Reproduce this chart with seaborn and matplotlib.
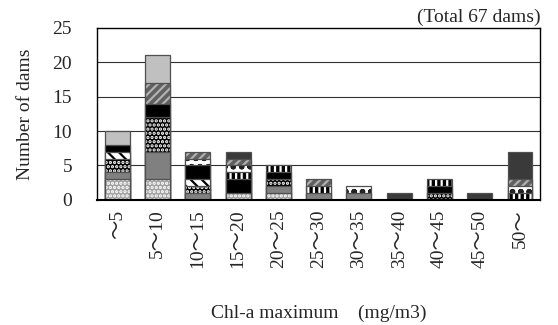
import numpy as np
import pandas as pd
import seaborn as sns
import matplotlib.pyplot as plt

# Chl-a maximum classes
categories = ['～5', '5～10', '10～15', '15～20', '20～25', '25～30',
              '30～35', '35～40', '40～45', '45～50', '50～']

# number of dams per layer (bottom -> top)
s1 = [3, 3, 0, 1, 1, 0, 0, 0, 0, 0, 0]
s2 = [1, 4, 1, 0, 1, 1, 1, 0, 0, 0, 0]
s3 = [2, 5, 1, 0, 1, 0, 0, 0, 1, 0, 0]
s4 = [1, 0, 1, 0, 0, 0, 0, 0, 0, 0, 0]
s5 = [1, 2, 2, 2, 1, 0, 0, 0, 1, 0, 0]
s6 = [0, 0, 0, 1, 1, 1, 0, 0, 1, 0, 1]
s7 = [0, 0, 1, 1, 0, 0, 1, 0, 0, 0, 1]
s8 = [0, 3, 1, 1, 0, 1, 0, 0, 0, 0, 1]
s9 = [2, 4, 0, 0, 0, 0, 0, 0, 0, 0, 0]
s10 = [0, 0, 0, 1, 0, 0, 0, 1, 0, 1, 4]

series = [s1, s2, s3, s4, s5, s6, s7, s8, s9, s10]
# (face, hatch, hatch colour)
styles = [
    ('#a0a0a0', '....', 'white'),
    ('#808080', '', '#808080'),
    ('#000000', '....', 'white'),
    ('#ffffff', '\\\\\\', 'black'),
    ('#000000', '', '#000000'),
    ('#000000', '|||', 'white'),
    ('#ffffff', 'oo', '#222222'),
    ('#606060', '////', '#b0b0b0'),
    ('#c0c0c0', '', '#c0c0c0'),
    ('#3a3a3a', '', '#3a3a3a'),
]

sns.set_style('white')
plt.rcParams['font.family'] = ['Liberation Serif', 'Noto Sans CJK JP']
plt.rcParams['hatch.linewidth'] = 1.6

fig = plt.figure(figsize=(5.58, 3.25), dpi=100)
ax = fig.add_axes([0.174, 0.385, 0.794, 0.529])

cum = np.cumsum(np.array(series), axis=0)

# draw tallest cumulative first, lower layers on top
for i in range(len(series) - 1, -1, -1):
    df = pd.DataFrame({'cls': categories, 'n': cum[i]})
    before = len(ax.patches)
    sns.barplot(data=df, x='cls', y='n', order=categories, color=styles[i][0],
                width=0.62, saturation=1, ax=ax, zorder=3)
    face, hatch, hc = styles[i]
    new = list(ax.patches[before:])
    for j, p in enumerate(new):
        p.set_facecolor(face)
        p.set_hatch(hatch)
        p.set_edgecolor(hc)
        p.set_linewidth(0)
        if series[i][j] > 0:
            ax.add_patch(plt.Rectangle(p.get_xy(), p.get_width(), p.get_height(),
                                       fill=False, edgecolor='#505050', lw=0.9, zorder=3))

ax.set_ylim(0, 25)
ax.set_xlim(-0.5, len(categories) - 0.5)
ax.set_yticks([0, 5, 10, 15, 20, 25])
for y in [5, 10, 15, 20]:
    ax.axhline(y, color='#303030', lw=0.8, zorder=1)

for s in ax.spines.values():
    s.set_color('black')
    s.set_linewidth(1.0)
ax.spines['bottom'].set_linewidth(1.5)
ax.spines['bottom'].set_zorder(5)

ax.set_xticks(np.arange(len(categories)))
ax.set_xticklabels(categories, rotation=90, fontsize=14)
ax.set_xticks(np.arange(len(categories) - 1) + 0.5, minor=True)
ax.tick_params(axis='x', which='major', length=0, pad=7)
ax.tick_params(axis='x', which='minor', direction='in', length=4, color='black')
ax.tick_params(axis='y', direction='in', length=4, labelsize=14, pad=18, color='black')

ax.set_xlabel('Chl-a maximum　(mg/m3)', fontsize=14, labelpad=26)
ax.set_ylabel('Number of dams', fontsize=14, labelpad=13)
ax.text(1.0, 1.01, '(Total 67 dams)', transform=ax.transAxes, ha='right',
        va='bottom', fontsize=14)

fig.savefig('out.png', dpi=100)
